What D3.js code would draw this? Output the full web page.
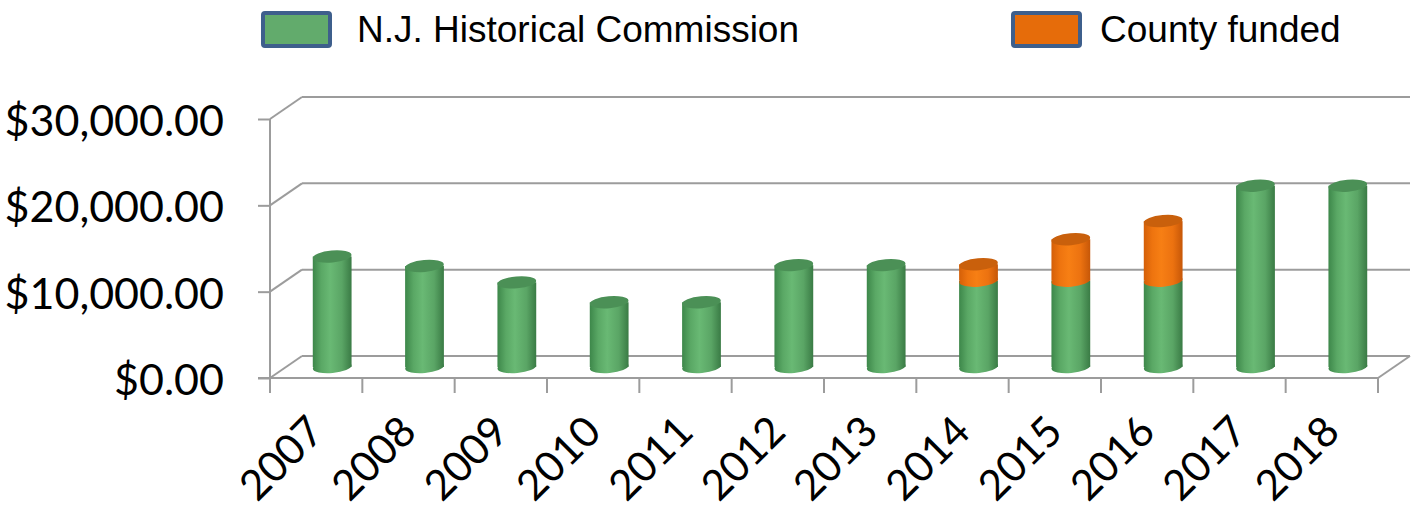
<!DOCTYPE html>
<html>
<head>
<meta charset="utf-8">
<script src="https://cdn.jsdelivr.net/npm/d3@7/dist/d3.min.js"></script>
<style>
  body { margin: 0; background: #fff; }
  svg { display: block; }
</style>
</head>
<body>
<svg id="chart"></svg>
<script>
// data
const years = ["2007","2008","2009","2010","2011","2012","2013","2014","2015","2016","2017","2018"];
const commission = [12800, 11700, 9800, 7500, 7500, 11800, 11800, 10000, 10000, 10000, 21000, 21000];
const county = [0, 0, 0, 0, 0, 0, 0, 1900, 4800, 6900, 0, 0];
const yTicks = [0, 10000, 20000, 30000];
const seriesNames = ["N.J. Historical Commission", "County funded"];

const [w, h] = [1418, 508];
const svg = d3.select("#chart").attr("width", w).attr("height", h);

// front plane scales, back wall is shifted by DX, DY
const [DX, DY] = [32, -22];
const x = d3.scaleBand().domain(years).range([270, 1378]);
const y = d3.scaleLinear().domain([0, 30000]).range([378, 119]);

const defs = svg.append("defs");
function cylGrad(id, stops) {
  const g = defs.append("linearGradient").attr("id", id).attr("x1", 0).attr("x2", 1).attr("y1", 0).attr("y2", 0);
  stops.forEach(s => g.append("stop").attr("offset", s[0]).attr("stop-color", s[1]));
}
cylGrad("gGreen", [[0, "#3d874a"], [0.22, "#5aa865"], [0.45, "#69b974"], [0.75, "#5aa565"], [1, "#3a7b45"]]);
cylGrad("gOrange", [[0, "#d45f08"], [0.22, "#ee740f"], [0.45, "#f77f14"], [0.75, "#ec7210"], [1, "#c65708"]]);

const gridColor = "#9c9c9c";

// back wall gridlines + left wall diagonals
const grid = svg.append("g");
yTicks.forEach(t => {
  grid.append("line").attr("x1", 270).attr("y1", y(t)).attr("x2", 270 + DX).attr("y2", y(t) + DY)
    .attr("stroke", gridColor).attr("stroke-width", 2);
  grid.append("line").attr("x1", 270 + DX).attr("y1", y(t) + DY).attr("x2", 1378 + DX).attr("y2", y(t) + DY)
    .attr("stroke", gridColor).attr("stroke-width", 2);
});
// floor right edge
grid.append("line").attr("x1", 1378).attr("y1", y(0)).attr("x2", 1378 + DX).attr("y2", y(0) + DY)
  .attr("stroke", gridColor).attr("stroke-width", 2);

// cylinders
const rx = x.bandwidth() * 0.21, ry = 6, tilt = -5;
const bars = svg.append("g");
years.forEach((yr, i) => {
  const cx = x(yr) + x.bandwidth() / 2 + DX / 2;
  const base = y(0) + DY / 2;
  const gTop = y(commission[i]) + DY / 2;
  const total = commission[i] + county[i];
  const tTop = y(total) + DY / 2;
  const g = bars.append("g");
  // green part
  g.append("ellipse").attr("cx", cx).attr("cy", base).attr("rx", rx).attr("ry", ry)
    .attr("transform", `rotate(${tilt},${cx},${base})`).attr("fill", "url(#gGreen)");
  g.append("rect").attr("x", cx - rx).attr("y", gTop).attr("width", rx * 2).attr("height", base - gTop)
    .attr("fill", "url(#gGreen)");
  if (county[i] > 0) {
    g.append("ellipse").attr("cx", cx).attr("cy", gTop).attr("rx", rx).attr("ry", ry)
      .attr("transform", `rotate(${tilt},${cx},${gTop})`).attr("fill", "url(#gOrange)");
    g.append("rect").attr("x", cx - rx).attr("y", tTop).attr("width", rx * 2).attr("height", gTop - tTop)
      .attr("fill", "url(#gOrange)");
  }
  g.append("ellipse").attr("cx", cx).attr("cy", tTop).attr("rx", rx).attr("ry", ry)
    .attr("transform", `rotate(${tilt},${cx},${tTop})`)
    .attr("fill", county[i] > 0 ? "#c9600c" : "#4b9056");
});

// front edges
const front = svg.append("g");
front.append("line").attr("x1", 270).attr("y1", y(30000)).attr("x2", 270).attr("y2", y(0) + 15)
  .attr("stroke", gridColor).attr("stroke-width", 2);
front.append("line").attr("x1", 258).attr("y1", y(0)).attr("x2", 1378).attr("y2", y(0))
  .attr("stroke", gridColor).attr("stroke-width", 2);
// category boundary ticks
d3.range(years.length + 1).forEach(k => {
  const xx = 270 + k * x.step();
  front.append("line").attr("x1", xx).attr("y1", y(0)).attr("x2", xx).attr("y2", y(0) + 15)
    .attr("stroke", gridColor).attr("stroke-width", 2);
});

// y axis
const yAxis = d3.axisLeft(y).tickValues(yTicks).tickSize(12).tickPadding(34)
  .tickFormat(d => "$" + d3.format(",.2f")(d));
const ya = svg.append("g").attr("transform", "translate(270,0)").call(yAxis);
ya.select(".domain").remove();
ya.selectAll(".tick line").attr("stroke", gridColor).attr("stroke-width", 2);
ya.selectAll(".tick text").attr("font-family", "Lato, 'Open Sans', sans-serif").attr("font-size", 43)
  .attr("fill", "#000").attr("dy", "0.38em");

// x labels
const xa = svg.append("g");
years.forEach(yr => {
  const ex = x(yr) + x.bandwidth() / 2 + 10;
  xa.append("text").attr("transform", `translate(${ex},434) rotate(-45)`)
    .attr("text-anchor", "end").attr("font-family", "Lato, 'Open Sans', sans-serif").attr("font-size", 42)
    .attr("fill", "#000").text(yr);
});

// legend
const legend = svg.append("g");
const legX = [263, 1013];
const legTextX = [357, 1100];
const legFill = ["#62ab6c", "#e66c0a"];
seriesNames.forEach((name, i) => {
  legend.append("rect").attr("x", legX[i]).attr("y", 13).attr("width", 67).attr("height", 33)
    .attr("rx", 2).attr("fill", legFill[i]).attr("stroke", "#3e5f8c").attr("stroke-width", 4);
  legend.append("text").attr("x", legTextX[i]).attr("y", 42)
    .attr("font-family", "'Liberation Sans', Arial, sans-serif").attr("font-size", 37)
    .attr("fill", "#000").text(name);
});
</script>
</body>
</html>
